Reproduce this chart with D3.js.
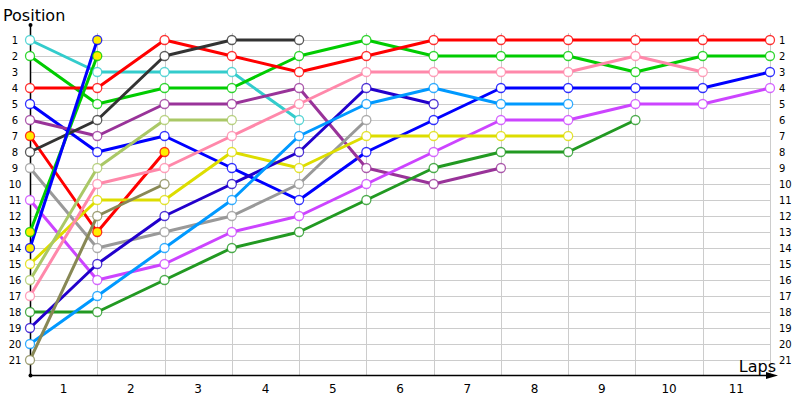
<!DOCTYPE html>
<html><head><meta charset="utf-8">
<script src="https://cdn.jsdelivr.net/npm/d3@7"></script>
<style>body{margin:0;background:#fff}svg{display:block}</style>
</head><body>
<svg id="c" width="800" height="400"></svg>
<script>
const lapLabels = ["1","2","3","4","5","6","7","8","9","10","11"];
const positionTicks = d3.range(1, 22);

const cyan       = [1,3,3,3,6];
const green      = [2,5,4,4,2,1,2,2,2,3,2,2];
const red        = [4,4,1,2,3,2,1,1,1,1,1,1];
const blue       = [5,8,7,9,11,8,6,4,4,4,4,3];
const purple     = [6,7,5,5,4,9,10,9];
const redPit     = [7,13,8];
const darkGray   = [8,6,2,1,1];
const gray       = [9,14,13,12,10,6];
const violet     = [11,16,15,13,12,10,8,6,6,5,5,4];
const greenPit   = [13,2];
const bluePit    = [14,1];
const yellow     = [15,11,11,8,9,7,7,7,7];
const lightGreen = [16,9,6,6];
const pink       = [17,10,9,7,5,3,3,3,3,2,3];
const darkGreen  = [18,18,16,14,13,11,9,8,8,6];
const indigo     = [19,15,12,10,8,4,5];
const lightBlue  = [20,17,14,11,7,5,4,5,5];
const olive      = [21,12,10];

const series = [
  {v: cyan, c: "#33cccc"},
  {v: green, c: "#00cc00"},
  {v: red, c: "#ff0000"},
  {v: blue, c: "#0000ff"},
  {v: purple, c: "#993399"},
  {v: redPit, c: "#ff0000", fill: "#ffee00"},
  {v: darkGray, c: "#333333"},
  {v: gray, c: "#999999"},
  {v: violet, c: "#cc44ff"},
  {v: greenPit, c: "#00cc00", fill: "#ffee00"},
  {v: bluePit, c: "#0000ff", fill: "#ffee00"},
  {v: yellow, c: "#dddd00"},
  {v: lightGreen, c: "#aac866"},
  {v: pink, c: "#ff88aa"},
  {v: darkGreen, c: "#229922"},
  {v: indigo, c: "#2200cc"},
  {v: lightBlue, c: "#0099ff"},
  {v: olive, c: "#888855"}
];

const svg = d3.select("#c");
const x = d3.scaleLinear().domain([0, 11]).range([30, 770]);
const y = d3.scaleLinear().domain([1, 21]).range([40, 360]);
const font = "DejaVu Sans, Verdana, sans-serif";

// grid
const g = svg.append("g");
g.selectAll("line.h").data(positionTicks).join("line")
  .attr("x1", x(0)).attr("x2", x(11))
  .attr("y1", d => y(d) + 0.5).attr("y2", d => y(d) + 0.5)
  .attr("stroke", "#cccccc").attr("stroke-width", 1);
g.selectAll("line.v").data(d3.range(1, 12)).join("line")
  .attr("x1", d => Math.round(x(d)) + 0.5).attr("x2", d => Math.round(x(d)) + 0.5)
  .attr("y1", 33).attr("y2", 375)
  .attr("stroke", "#cccccc").attr("stroke-width", 1);

// axes
svg.append("line").attr("x1", 30.5).attr("x2", 30.5).attr("y1", 25).attr("y2", 375.5)
  .attr("stroke", "#000").attr("stroke-width", 1.5);
svg.append("line").attr("x1", 30).attr("x2", 770).attr("y1", 375.5).attr("y2", 375.5)
  .attr("stroke", "#000").attr("stroke-width", 1.5);
svg.append("circle").attr("cx", 30.5).attr("cy", 25).attr("r", 2).attr("fill", "#000");
svg.append("circle").attr("cx", 30.5).attr("cy", 375.5).attr("r", 2).attr("fill", "#000");
svg.append("path").attr("d", "M766,372 L778,375.5 L766,379 Z").attr("fill", "#000");

// y labels left & right
svg.selectAll("text.yl").data(positionTicks).join("text")
  .attr("x", 15).attr("y", d => y(d) + 3.5)
  .attr("text-anchor", "middle").attr("font-family", font).attr("font-size", 10)
  .attr("fill", "#000").text(d => d);
svg.selectAll("text.yr").data(positionTicks).join("text")
  .attr("x", 779).attr("y", d => y(d) + 3.5)
  .attr("text-anchor", "start").attr("font-family", font).attr("font-size", 10)
  .attr("fill", "#000").text(d => d);

// lap labels
svg.selectAll("text.xl").data(lapLabels).join("text")
  .attr("x", (d, i) => (x(i) + x(i + 1)) / 2).attr("y", 393)
  .attr("text-anchor", "middle").attr("font-family", font).attr("font-size", 12)
  .attr("fill", "#000").text(d => d);

svg.append("text").attr("x", 3).attr("y", 21).attr("font-family", font).attr("font-size", 16)
  .attr("fill", "#000").text("Position");
svg.append("text").attr("x", 776).attr("y", 372).attr("text-anchor", "end")
  .attr("font-family", font).attr("font-size", 16)
  .attr("fill", "#000").text("Laps");

// lines
const line = d3.line().x((d, i) => x(i)).y(d => y(d));
series.forEach(s => {
  svg.append("path").datum(s.v).attr("d", line)
    .attr("fill", "none").attr("stroke", s.c).attr("stroke-width", 3)
    .attr("stroke-linejoin", "round");
});
series.forEach(s => {
  svg.append("g").selectAll("circle").data(s.v).join("circle")
    .attr("cx", (d, i) => x(i)).attr("cy", d => y(d)).attr("r", 4.5)
    .attr("fill", s.fill || "#fff").attr("stroke", s.c).attr("stroke-width", 1.3)
    .attr("stroke-opacity", 0.8);
});
</script>
</body></html>
